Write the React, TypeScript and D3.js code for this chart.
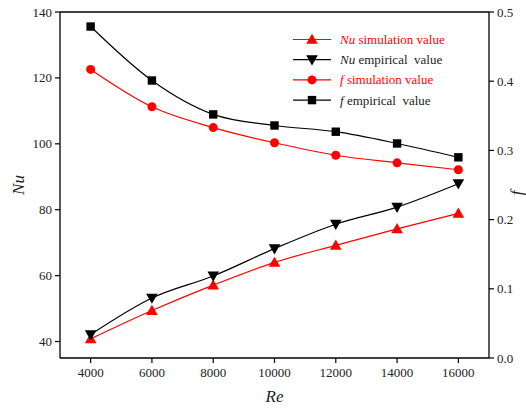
import { useMemo } from "react";
import * as d3 from "d3";

const W = 526;
const H = 409;
const MARGIN = { top: 12, right: 37, bottom: 51, left: 60 };
const FONT = "'Liberation Serif', 'Times New Roman', serif";

const reValues = [4000, 6000, 8000, 10000, 12000, 14000, 16000];
const nuSimulation = [40.8, 49.4, 57.1, 64.0, 69.2, 74.2, 78.9];
const nuEmpirical = [42.1, 53.2, 59.9, 68.2, 75.6, 80.8, 87.9];
const fSimulation = [0.417, 0.363, 0.333, 0.311, 0.293, 0.282, 0.272];
const fEmpirical = [0.479, 0.401, 0.352, 0.336, 0.327, 0.31, 0.29];

const xTicks = [4000, 6000, 8000, 10000, 12000, 14000, 16000];
const nuTicks = [40, 60, 80, 100, 120, 140];
const fTicks = [0, 0.1, 0.2, 0.3, 0.4, 0.5];

type Marker = "up" | "down" | "circle" | "square";

const series: { label: string; prefix: string; values: number[]; axis: "nu" | "f"; color: string; marker: Marker }[] = [
  { prefix: "Nu", label: " simulation value", values: nuSimulation, axis: "nu", color: "#ff0000", marker: "up" },
  { prefix: "Nu", label: " empirical  value", values: nuEmpirical, axis: "nu", color: "#000000", marker: "down" },
  { prefix: "f", label: " simulation value", values: fSimulation, axis: "f", color: "#ff0000", marker: "circle" },
  { prefix: "f", label: " empirical  value", values: fEmpirical, axis: "f", color: "#000000", marker: "square" },
];

const MarkerShape = ({ type, x, y, color }: { type: Marker; x: number; y: number; color: string }) => {
  if (type === "circle") return <circle cx={x} cy={y} r={4.5} fill={color} />;
  if (type === "square") return <rect x={x - 4.2} y={y - 4.2} width={8.4} height={8.4} fill={color} />;
  const s = 5.8;
  const pts =
    type === "up"
      ? [[x, y - s], [x + s, y + s * 0.75], [x - s, y + s * 0.75]]
      : [[x, y + s], [x + s, y - s * 0.75], [x - s, y - s * 0.75]];
  return <polygon points={pts.map((p) => p.join(",")).join(" ")} fill={color} />;
};

export default function App() {
  const bw = W - MARGIN.left - MARGIN.right;
  const bh = H - MARGIN.top - MARGIN.bottom;

  const xScale = useMemo(() => d3.scaleLinear().domain([3000, 17000]).range([0, bw]), [bw]);
  const nuScale = useMemo(() => d3.scaleLinear().domain([35, 140]).range([bh, 0]), [bh]);
  const fScale = useMemo(() => d3.scaleLinear().domain([0, 0.5]).range([bh, 0]), [bh]);

  const lineFor = (axis: "nu" | "f") =>
    d3
      .line<number>()
      .x((_, i) => xScale(reValues[i]))
      .y((v) => (axis === "nu" ? nuScale(v) : fScale(v)))
      .curve(d3.curveMonotoneX);

  return (
    <svg width={W} height={H} style={{ position: "absolute", left: 0, top: 0, background: "#fff" }} fontFamily={FONT}>
      <g transform={`translate(${MARGIN.left},${MARGIN.top})`}>
        {/* frame */}
        <line x1={0} x2={bw} y1={0} y2={0} stroke="#000" strokeWidth={1.3} />
        <line x1={0} x2={bw} y1={bh} y2={bh} stroke="#000" strokeWidth={1.3} />
        <line x1={0} x2={0} y1={0} y2={bh} stroke="#000" strokeWidth={1.3} />
        <line x1={bw} x2={bw} y1={0} y2={bh} stroke="#000" strokeWidth={1.3} />

        {xTicks.map((t) => (
          <g key={t} transform={`translate(${xScale(t)},${bh})`}>
            <line y1={0} y2={5} stroke="#000" strokeWidth={1.2} />
            <text y={19} textAnchor="middle" fontSize={13} fill="#222">
              {t}
            </text>
          </g>
        ))}
        {nuTicks.map((t) => (
          <g key={t} transform={`translate(0,${nuScale(t)})`}>
            <line x1={0} x2={-5} stroke="#000" strokeWidth={1.2} />
            <text x={-8} dy="0.35em" textAnchor="end" fontSize={13} fill="#222">
              {t}
            </text>
          </g>
        ))}
        {fTicks.map((t) => (
          <g key={t} transform={`translate(${bw},${fScale(t)})`}>
            <line x1={0} x2={5} stroke="#000" strokeWidth={1.2} />
            <text x={8} dy="0.35em" textAnchor="start" fontSize={13} fill="#222">
              {t.toFixed(1)}
            </text>
          </g>
        ))}

        <text x={bw / 2} y={bh + 44} textAnchor="middle" fontSize={17} fontStyle="italic" fill="#222">
          Re
        </text>
        <text transform={`translate(${-36},${bh / 2}) rotate(-90)`} textAnchor="middle" fontSize={17} fontStyle="italic" fill="#222">
          Nu
        </text>
        <text transform={`translate(${bw + 33},${bh / 2 + 8}) rotate(-90)`} textAnchor="middle" fontSize={17} fontStyle="italic" fill="#222">
          f
        </text>

        {series.map((s) => {
          const yS = s.axis === "nu" ? nuScale : fScale;
          return (
            <g key={s.prefix + s.label}>
              <path d={lineFor(s.axis)(s.values) || ""} fill="none" stroke={s.color} strokeWidth={1.2} />
              {s.values.map((v, i) => (
                <MarkerShape key={i} type={s.marker} x={xScale(reValues[i])} y={yS(v)} color={s.color} />
              ))}
            </g>
          );
        })}

        {/* legend */}
        {series.map((s, i) => {
          const y = 27.5 + i * 20.2;
          return (
            <g key={"lg" + i} transform={`translate(${233},${y})`}>
              <line x1={0} x2={38} stroke={s.color} strokeWidth={1.2} />
              <MarkerShape type={s.marker} x={19} y={0} color={s.color} />
              <text x={47} dy="0.35em" fontSize={13} fill={s.color === "#000000" ? "#222" : s.color}>
                <tspan fontStyle="italic">{s.prefix}</tspan>
                <tspan style={{ whiteSpace: "pre" }}>{s.label}</tspan>
              </text>
            </g>
          );
        })}
      </g>
    </svg>
  );
}
